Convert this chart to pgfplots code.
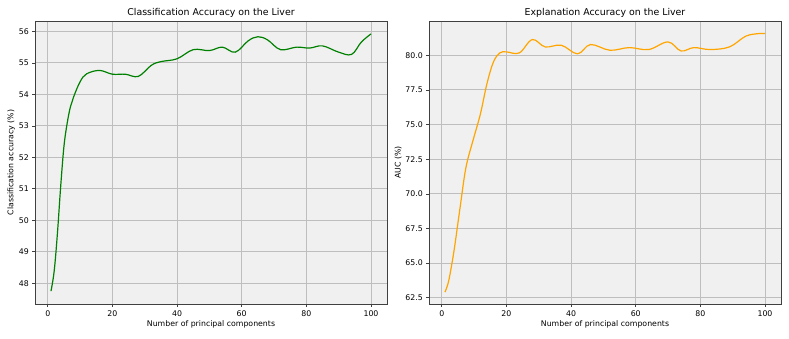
\documentclass[border=0pt]{standalone}
\usepackage{fontspec}
\setmainfont{DejaVu Sans}
\usepackage{pgfplots}
\pgfplotsset{compat=1.18}
\definecolor{mplgreen}{HTML}{008000}
\definecolor{mplorange}{HTML}{FFA500}
\definecolor{bgray}{HTML}{F0F0F0}
\definecolor{gridgray}{HTML}{BEBEBE}

\pgfplotsset{panel/.style={
  scale only axis, width=352pt, height=283pt,
  axis background/.style={fill=bgray},
  axis line style={draw=black!75, line width=0.7pt},
  grid=major, major grid style={draw=gridgray, line width=0.9pt},
  tick style={draw=black!75, line width=0.6pt},
  tick align=outside, major tick length=2.7pt,
  xtick pos=left, ytick pos=left,
  ticklabel style={font=\fontsize{7.8}{9}\selectfont},
  label style={font=\fontsize{7.8}{9}\selectfont},
  title style={font=\fontsize{9.4}{11}\selectfont, yshift=-6pt},
  /pgf/number format/assume math mode=true,
  xmin=-3.95, xmax=104.95, xtick={0,20,...,100},
  xlabel={Number of principal components},
  xlabel style={yshift=2pt},
}}

\begin{document}
\begin{tikzpicture}
\path (0,0) rectangle (789pt,338pt);
\begin{axis}[panel, at={(35pt,34pt)}, anchor=south west,
  title={Classification Accuracy on the Liver},
  ylabel={Classification accuracy (\%)}, ylabel style={yshift=-3pt},
  ymin=47.34, ymax=56.33, ytick={48,49,...,56}]
\addplot[mplgreen, line width=1.2pt, smooth, tension=0.6] coordinates {
(1,47.75) (2,48.4) (3,49.6) (4,51.08) (5,52.34) (6,53.08) (7,53.6) (8,53.92)
(10,54.4) (12,54.65) (16,54.76) (20,54.64) (24,54.64) (28,54.57) (32,54.92)
(35,55.04) (40,55.13) (45,55.42) (50,55.39) (54,55.5) (58,55.34) (62,55.7)
(65,55.83) (68,55.73) (72,55.42) (77,55.5) (81,55.47) (85,55.54) (90,55.34)
(94,55.27) (97,55.66) (100,55.92)};
\end{axis}
\begin{axis}[panel, at={(429pt,34pt)}, anchor=south west,
  title={Explanation Accuracy on the Liver},
  ylabel={AUC (\%)}, ylabel style={yshift=-3pt},
  ymin=62.05, ymax=82.47, ytick={62.5,65,...,80},
  yticklabel style={/pgf/number format/.cd, fixed, fixed zerofill, precision=1}]
\addplot[mplorange, line width=1.2pt, smooth, tension=0.6] coordinates {
(1,62.91) (2,63.58) (3,64.78) (4,66.22) (5,67.9) (6,69.57) (7,71.25) (8,72.45)
(10,74.13) (12,75.81) (14,77.97) (16,79.52) (18,80.17) (20,80.24) (24,80.17)
(28,81.13) (32,80.6) (37,80.72) (42,80.1) (46,80.77) (52,80.36) (58,80.55)
(64,80.41) (70,80.96) (74,80.31) (78,80.55) (83,80.41) (89,80.6) (94,81.37)
(98,81.56) (100,81.56)};
\end{axis}
\end{tikzpicture}
\end{document}
